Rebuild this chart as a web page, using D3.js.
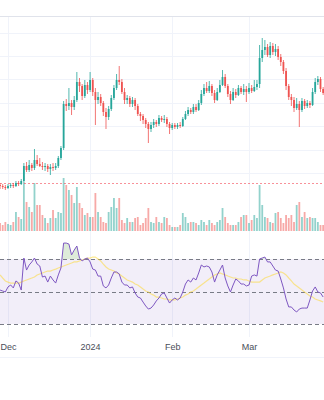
<!DOCTYPE html>
<html><head><meta charset="utf-8">
<script src="https://cdn.jsdelivr.net/npm/d3@7"></script>
<style>html,body{margin:0;padding:0;background:#fff;}svg{display:block;}</style>
</head><body>
<svg id="chart" width="324" height="400"></svg>
<script>
// ---- data (daily candles starting 2023-11-28) ----
const startDate = "2023-11-28";
const opens  = [88,87,86,85,87,88,87,90,89,92,107,103,108,105,113,109,107,106,107,104,106,105,107,115,125,169,167,170,166,173,191,187,177,188,183,193,181,173,176,170,161,156,164,175,185,193,191,181,173,175,169,173,167,159,157,153,149,144,148,151,149,155,153,154,149,145,148,146,148,147,154,159,163,161,166,163,170,179,185,182,187,180,173,181,188,196,187,179,173,181,178,185,181,184,181,185,182,186,189,215,223,226,218,227,221,224,216,211,202,187,176,173,165,169,163,172,167,170,168,181,191,194,184];
const highs  = [90,89,88,89,90,90,92,92,94,110,111,113,110,124,118,115,111,110,109,109,110,110,117,127,172,174,185,173,177,201,195,189,193,191,201,195,185,181,179,172,165,167,178,188,199,207,194,185,178,177,176,175,169,161,159,155,151,151,154,153,158,157,158,156,151,150,150,150,151,156,162,166,165,169,169,173,183,189,191,192,189,183,185,193,203,199,189,182,185,184,188,187,189,187,190,188,193,193,228,235,233,229,231,230,229,227,219,213,205,189,179,176,175,172,175,174,173,172,185,195,197,196,186];
const lows   = [84,84,83,84,85,85,86,87,88,91,101,101,102,103,107,106,103,102,101,98,102,103,105,113,123,162,163,158,163,171,181,173,175,179,181,177,148,169,167,157,144,153,162,173,183,188,179,169,169,166,166,163,157,152,149,145,130,141,145,146,147,151,150,146,139,143,144,144,145,146,153,157,159,159,161,162,168,177,180,180,177,170,172,180,187,185,176,169,172,175,177,179,178,171,179,180,181,183,185,211,218,216,215,218,217,213,207,199,183,173,167,161,163,146,161,164,165,165,167,179,188,181,178];
const closes = [87,86,85,87,88,87,90,89,92,107,103,108,105,113,109,107,106,107,104,106,105,107,115,125,169,167,170,166,173,191,187,177,188,183,193,181,173,176,170,161,156,164,175,185,193,191,181,173,175,169,173,167,159,157,153,149,144,148,151,149,155,153,154,149,145,148,146,148,147,154,159,163,161,166,163,170,179,185,182,187,180,173,181,188,196,187,179,173,181,178,185,181,184,181,185,182,186,189,215,223,226,218,227,221,224,216,211,202,187,176,173,165,169,163,172,167,170,168,181,191,194,184,180];
const volumes = [8,6,9,7,6,9,19,14,12,49,29,24,19,48,26,26,16,13,8,13,21,13,19,18,53,46,41,36,28,44,28,23,16,18,14,14,38,19,14,9,8,19,24,33,23,33,11,8,13,9,9,13,14,6,8,13,23,9,8,14,9,8,14,13,6,4,4,4,6,18,14,8,9,9,8,6,11,9,6,11,8,6,9,11,23,14,8,6,6,6,9,14,16,16,8,11,16,13,46,26,14,13,9,8,18,19,13,8,16,13,16,9,26,29,14,19,13,14,13,13,9,6,6];
const rsi = [50.9,50.3,49.7,52.8,54.0,52.2,56.5,55.2,50.9,70.6,63.2,66.3,68.2,70.6,66.9,65.7,58.9,59.5,55.8,59.5,57.1,55.2,60.2,64.5,79.8,79.8,79.2,72.5,75.5,78.0,70.6,68.8,70.0,70.6,68.2,63.8,63.2,59.5,59.5,53.4,52.2,54.0,58.3,62.0,62.0,60.8,55.8,54.0,54.0,52.2,52.8,49.1,46.6,46.0,43.5,41.1,39.2,39.8,41.7,44.2,46.0,48.5,49.1,46.0,42.9,44.8,46.0,44.8,46.0,49.7,54.6,57.1,55.8,58.3,57.1,61.4,66.3,65.1,65.7,65.1,62.0,55.8,60.2,63.2,66.3,58.3,53.4,49.7,54.0,57.7,56.5,54.6,54.6,53.4,54.0,59.5,60.2,59.5,70.0,70.6,71.2,68.2,68.2,65.7,63.2,62.6,57.7,52.2,45.4,40.5,40.5,38.6,37.4,39.2,39.8,39.8,39.8,44.8,50.3,52.8,49.7,49.1,46.6];
const rsiMA = [60.2,58.3,56.5,55.8,55.2,55.2,55.2,55.2,55.8,56.5,57.1,57.7,58.3,58.9,60.2,60.8,61.4,62.0,62.6,62.6,63.2,63.8,64.5,65.1,65.7,66.3,66.9,67.5,68.2,68.2,68.8,69.4,70.0,70.6,70.6,71.2,71.2,70.0,68.8,66.9,65.1,63.8,63.2,62.6,61.4,60.8,59.5,58.3,57.1,56.5,55.8,54.6,54.0,52.8,51.5,50.3,49.7,48.5,47.8,46.6,46.6,46.0,45.4,45.4,44.8,44.8,44.8,45.4,46.0,46.6,47.8,48.5,49.7,50.3,51.5,52.8,54.0,55.2,56.5,57.7,58.9,60.2,60.8,61.4,60.8,60.2,59.5,58.9,58.3,58.3,57.7,57.7,57.1,57.1,56.5,55.8,55.8,55.8,55.8,57.1,58.3,58.9,59.5,60.2,60.8,61.4,62.0,61.4,60.2,58.3,56.5,54.6,53.4,52.2,50.9,49.7,48.5,47.2,46.6,45.4,44.8,44.2,43.5];
const rsiLevels = [70, 50, 30];
const priceLine = 90;
const priceGrid = [100, 123.4, 146.8, 170.2, 193.6, 217, 240.4];
const tickDates = ["2023-12-01", "2024-01-01", "2024-02-01", "2024-03-01"];
const tickLabels = ["Dec", "2024", "Feb", "Mar"];

// ---- build ----
const day0 = new Date(startDate + "T00:00:00Z");
const data = closes.map((c, i) => ({
  date: new Date(day0.getTime() + i * 86400000),
  o: opens[i], h: highs[i], l: lows[i], c: c, v: volumes[i], r: rsi[i], m: rsiMA[i]
}));

const W = 324, H = 400;
const svg = d3.select("#chart");
svg.append("rect").attr("width", W).attr("height", H).attr("fill", "#fff");

const x = d3.scaleUtc()
  .domain([new Date("2023-12-01T00:00:00Z"), new Date("2024-03-01T00:00:00Z")])
  .range([8, 249]);
const y = d3.scaleLinear().domain([33, 257]).range([240, 16]);
const yv = d3.scaleLinear().domain([0, 55]).range([231, 176]);
const yr = d3.scaleLinear().domain([30, 70]).range([324, 259]);

const up = "#26a69a", down = "#ef5350";
const bodyW = 1.8;

// top border
svg.append("line").attr("x1", 0).attr("x2", W).attr("y1", 16.5).attr("y2", 16.5)
  .attr("stroke", "#e0e3eb").attr("stroke-width", 1);

// vertical grid
const tDates = tickDates.map(d => new Date(d + "T00:00:00Z"));
svg.append("g").selectAll("line").data(tDates).join("line")
  .attr("x1", d => Math.round(x(d)) + 0.5).attr("x2", d => Math.round(x(d)) + 0.5)
  .attr("y1", 17).attr("y2", 337)
  .attr("stroke", "#f0f3fa").attr("stroke-width", 1);

// horizontal price grid
svg.append("g").selectAll("line").data(priceGrid).join("line")
  .attr("x1", 0).attr("x2", W)
  .attr("y1", d => Math.round(y(d)) + 0.5).attr("y2", d => Math.round(y(d)) + 0.5)
  .attr("stroke", "#f0f3fa").attr("stroke-width", 1);

// volume
svg.append("g").selectAll("rect").data(data).join("rect")
  .attr("x", d => x(d.date) - bodyW / 2).attr("width", bodyW)
  .attr("y", d => yv(d.v)).attr("height", d => yv(0) - yv(d.v))
  .attr("fill", d => d.c >= d.o ? up : down).attr("fill-opacity", 0.5);

// price line (dotted)
svg.append("line").attr("x1", 0).attr("x2", W)
  .attr("y1", Math.round(y(priceLine)) + 0.5).attr("y2", Math.round(y(priceLine)) + 0.5)
  .attr("stroke", "#f23645").attr("stroke-opacity", 0.55).attr("stroke-width", 1)
  .attr("stroke-dasharray", "2,2").attr("shape-rendering", "crispEdges");

// candles
const cg = svg.append("g");
cg.selectAll("line").data(data).join("line")
  .attr("x1", d => x(d.date)).attr("x2", d => x(d.date))
  .attr("y1", d => y(d.h)).attr("y2", d => y(d.l))
  .attr("stroke", d => d.c >= d.o ? up : down).attr("stroke-width", 0.8);
cg.selectAll("rect").data(data).join("rect")
  .attr("x", d => x(d.date) - bodyW / 2).attr("width", bodyW)
  .attr("y", d => y(Math.max(d.o, d.c)))
  .attr("height", d => Math.max(1, Math.abs(y(d.o) - y(d.c))))
  .attr("fill", d => d.c >= d.o ? up : down);

// RSI band
svg.append("rect").attr("x", 0).attr("width", W)
  .attr("y", yr(70)).attr("height", yr(30) - yr(70))
  .attr("fill", "#7e57c2").attr("fill-opacity", 0.1);

// overbought fill
svg.append("clipPath").attr("id", "ob").append("rect")
  .attr("x", 0).attr("width", W).attr("y", 200).attr("height", yr(70) - 200);
svg.append("path").datum(data)
  .attr("clip-path", "url(#ob)")
  .attr("d", d3.area().x(d => x(d.date)).y0(yr(70)).y1(d => yr(d.r)))
  .attr("fill", "#c8e0c0").attr("fill-opacity", 0.6);

// dashed levels
svg.append("g").selectAll("line").data(rsiLevels).join("line")
  .attr("x1", 0).attr("x2", W)
  .attr("y1", d => Math.round(yr(d)) + 0.5).attr("y2", d => Math.round(yr(d)) + 0.5)
  .attr("stroke", "#787b86").attr("stroke-width", 1).attr("stroke-dasharray", "4,3");

// RSI MA
svg.append("path").datum(data)
  .attr("d", d3.line().x(d => x(d.date)).y(d => yr(d.m)))
  .attr("fill", "none").attr("stroke", "#fdd835").attr("stroke-opacity", 0.55).attr("stroke-width", 1.2);
// RSI
svg.append("path").datum(data)
  .attr("d", d3.line().x(d => x(d.date)).y(d => yr(d.r)))
  .attr("fill", "none").attr("stroke", "#7e57c2").attr("stroke-width", 1);

// time axis
const axis = d3.axisBottom(x).tickValues(tDates).tickFormat((d, i) => tickLabels[i]).tickSize(0).tickPadding(0);
const ag = svg.append("g").attr("transform", "translate(0,344)").call(axis);
ag.select(".domain").remove();
ag.selectAll("text").attr("font-family", "Liberation Sans, Arial, sans-serif")
  .attr("font-size", 9).attr("fill", "#4a4e59").attr("dy", "0.71em");

// bottom border
svg.append("line").attr("x1", 0).attr("x2", W).attr("y1", 357.5).attr("y2", 357.5)
  .attr("stroke", "#f0f3fa").attr("stroke-width", 1);
</script>
</body></html>
